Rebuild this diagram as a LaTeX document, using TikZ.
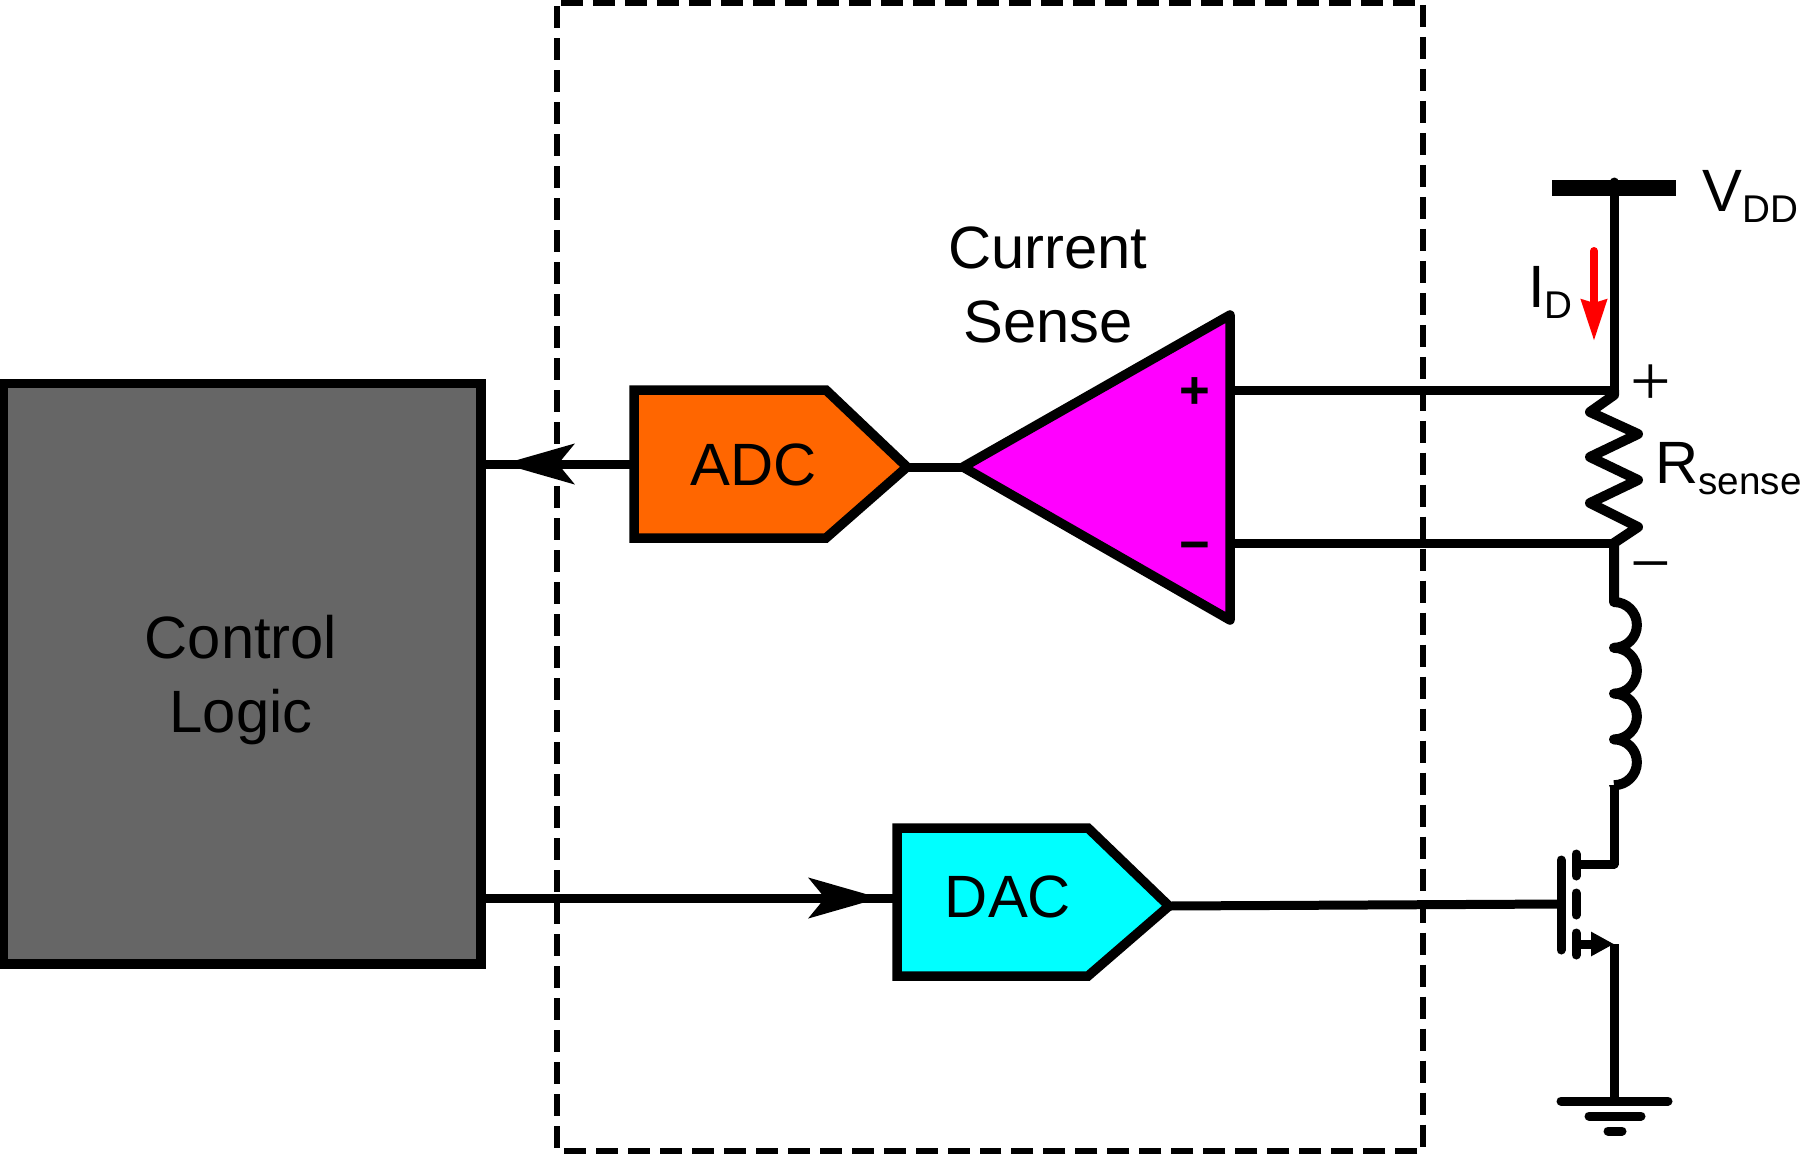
\documentclass[tikz,border=0pt]{standalone}
\usepackage{fontspec}
\setmainfont{Liberation Sans}
\newfontfamily\signfont{Liberation Serif}
\usetikzlibrary{arrows.meta,calc}
\definecolor{logicgray}{RGB}{102,102,102}
\definecolor{adcorange}{RGB}{255,102,0}
\definecolor{daccyan}{RGB}{0,255,255}
\definecolor{ampmagenta}{RGB}{255,0,255}
\newcommand{\lowtxt}[1]{\raisebox{-.23cm}{\fontsize{22}{24}\selectfont #1}}
\tikzset{
  wire/.style={line width=.18cm, line join=round},
  coil/.style={line width=.2cm, line join=round},
  rail/.style={line width=.18cm, line cap=round},
  block/.style={draw, line width=.19cm, line join=miter},
  lbl/.style={inner sep=0pt, anchor=base, font=\fontsize{34}{42}\selectfont},
  lblw/.style={lbl, anchor=base west},
  signlbl/.style={inner sep=0pt, font=\signfont\fontsize{41}{41}\selectfont},
  amplbl/.style={inner sep=0pt, font=\bfseries\fontsize{30}{30}\selectfont},
  flow/.style={wire, -{Stealth[length=1.42cm,width=.8cm,inset=.32cm]}},
}

\begin{document}
\begin{tikzpicture}[x=.02cm,y=-.02cm]
\useasboundingbox (0,0) rectangle (1800,1154);

% Dashed chip outline
\draw[line width=.13cm, dash pattern=on .44cm off .2cm, dash phase=.56cm]
  (557,3) -- (1423,3) -- (1423,1151) -- (557,1151) -- cycle;

% Control block
\node[block, fill=logicgray, minimum width=9.55cm, minimum height=11.61cm, inner sep=0pt]
  (ctrl) at (242.25,673.75) {};
\node[lbl] (ctrl1) at (241,658) {Control};
\node[lbl] (ctrl2) at (241,732) {Logic};

% Named points on the wires
\coordinate (adcin) at (634,464);
\coordinate (adcout) at (907,467);
\coordinate (ampout) at (963,467);
\coordinate (adcarrow) at (503,464);
\coordinate (dacin) at (897,898);
\coordinate (dacout) at (1169,906);
\coordinate (dacarrow) at (880,898);
\coordinate (ampplus) at (1230,390);
\coordinate (ampminus) at (1230,543);
\coordinate (rtop) at (1614,390);
\coordinate (rbot) at (1614,543);
\coordinate (vdd) at (1614,182);
\coordinate (lfoot) at (1614,785);
\coordinate (drain) at (1576,864);
\coordinate (gate) at (1561,904);
\coordinate (source) at (1576,944);
\coordinate (sourcetip) at (1614,944);
\coordinate (gnd) at (1614,1101);

% Signal wires
\draw[wire] (adcin) -- (ctrl.east |- adcin);
\draw[flow] (adcin) -- (adcarrow);
\draw[wire] (adcout) -- (ampout);
\draw[wire] (ctrl.east |- dacin) -- (dacin);
\draw[flow] (ctrl.east |- dacin) -- (dacarrow);
\draw[wire] (dacout) -- (gate);
\draw[wire] (ampplus) -- (rtop);
\draw[wire] (ampminus) -- (rbot);

% ADC
\draw[block, fill=adcorange] (634,390) -- (826,390) -- (adcout) -- (826,538) -- (634,538) -- cycle;
\node[lbl] (adclbl) at (754,485) {ADC};

% DAC
\draw[block, fill=daccyan] (897,828) -- (1088,828) -- (dacout) -- (1088,976) -- (897,976) -- cycle;
\node[lbl] (daclbl) at (1008,917) {DAC};

% Current sense amplifier
\draw[block, line join=round, fill=ampmagenta] (ampout) -- (1230,315) -- (1230,620) -- cycle;
\node[amplbl] (plusin) at (1195,393) {+};
\node[amplbl] (minusin) at (1195,552) {−};
\node[lbl] (sense1) at (1048,268) {Current};
\node[lbl] (sense2) at (1048,342) {Sense};

% Supply rail
\draw[line width=.32cm] (1552,188) -- (1676,188);
\draw[rail] (vdd) -- (rtop);
\node[lblw] (vddlbl) at (1702,211) {V\lowtxt{DD}};

% Drain current
\node[lblw] (idlbl) at (1528,307) {I\lowtxt{D}};
\coordinate (idtop) at (1594,251);
\coordinate (idtip) at (1594,341);
\draw[red, line width=.16cm, line cap=round, -{Stealth[length=.82cm,width=.5cm,inset=.06cm]}] (idtop) -- (idtip);

% Sense resistor
\draw[coil] (rtop) -- (1614,395) -- (1590,412) -- (1638,434) -- (1590,457) -- (1638,480) -- (1590,503) -- (1638,527) -- (rbot);
\node[signlbl] (rplus) at (1651,385) {+};
\node[signlbl] (rminus) at (1651,575) {−};
\node[lblw] (rlbl) at (1655,483) {R\lowtxt{sense}};

% Inductor
\draw[coil] (rbot) -- (1614,602)
  arc[start angle=-90,end angle=90,radius=22.9]
  arc[start angle=-90,end angle=90,radius=22.9]
  arc[start angle=-90,end angle=90,radius=22.9]
  arc[start angle=-90,end angle=90,radius=22.9] -- (lfoot);

% Transistor
\draw[wire] (lfoot) -- (1614,864) -- (drain);
\draw[rail] (1561,860) -- (1561,950);
\draw[rail] (1576,854) -- (1576,876);
\draw[rail] (1576,893) -- (1576,915);
\draw[rail] (1576,933) -- (1576,955);
\draw[wire, -{Triangle[length=.46cm,width=.46cm]}] (source) -- (sourcetip);
\draw[wire] (sourcetip) -- (gnd);

% Ground
\draw[rail] (1561,1101) -- (1668,1101);
\draw[rail] (1589,1116) -- (1641,1116);
\draw[rail] (1608,1131) -- (1622,1131);
\end{tikzpicture}
\end{document}
